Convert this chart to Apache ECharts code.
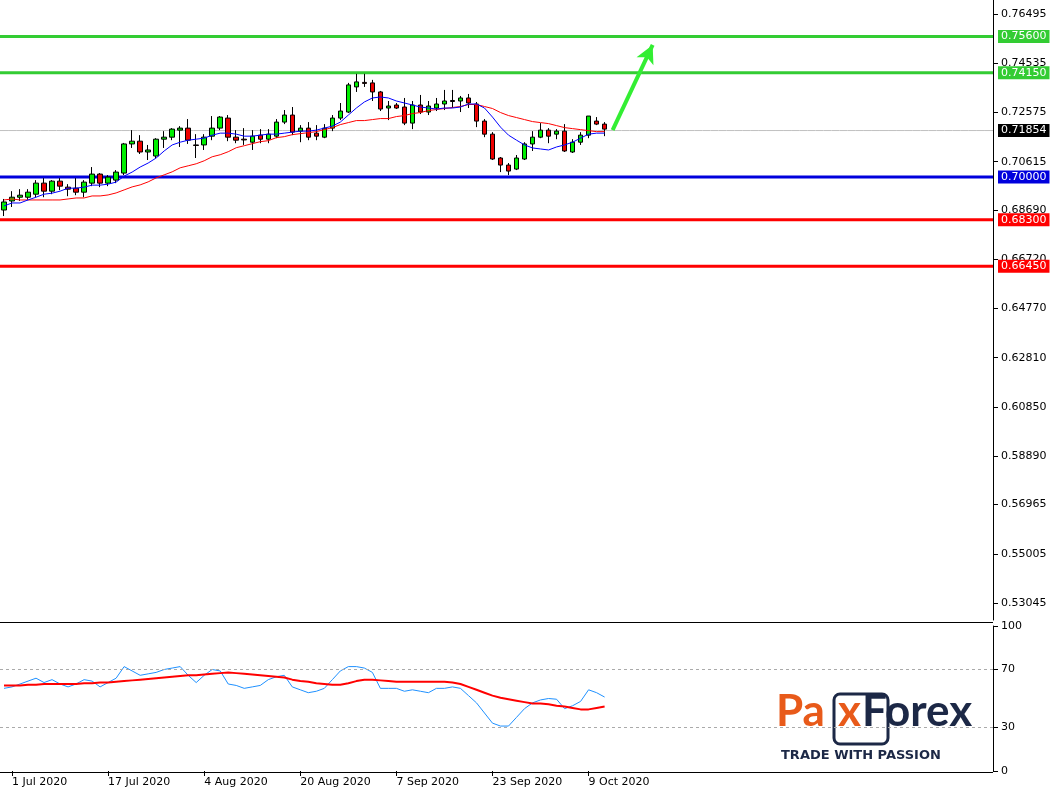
<!DOCTYPE html><html><head><meta charset="utf-8"><script src="https://cdn.jsdelivr.net/npm/echarts@6/dist/echarts.min.js"></script>
<style>html,body{margin:0;padding:0;background:#fff}#c{width:1061px;height:793px}</style></head><body><div id="c"></div><script>
const dates=['30 Jun','1 Jul 2020','2 Jul','3 Jul','6 Jul','7 Jul','8 Jul','9 Jul','10 Jul','13 Jul','14 Jul','15 Jul','16 Jul','17 Jul 2020','20 Jul','21 Jul','22 Jul','23 Jul','24 Jul','27 Jul','28 Jul','29 Jul','30 Jul','31 Jul','3 Aug','4 Aug 2020','5 Aug','6 Aug','7 Aug','10 Aug','11 Aug','12 Aug','13 Aug','14 Aug','17 Aug','18 Aug','19 Aug','20 Aug 2020','21 Aug','24 Aug','25 Aug','26 Aug','27 Aug','28 Aug','31 Aug','1 Sep','2 Sep','3 Sep','4 Sep','7 Sep 2020','8 Sep','9 Sep','10 Sep','11 Sep','14 Sep','15 Sep','16 Sep','17 Sep','18 Sep','21 Sep','22 Sep','23 Sep 2020','24 Sep','25 Sep','28 Sep','29 Sep','30 Sep','1 Oct','2 Oct','5 Oct','6 Oct','7 Oct','8 Oct','9 Oct 2020','12 Oct','13 Oct'];
const tickDates=['1 Jul 2020','17 Jul 2020','4 Aug 2020','20 Aug 2020','7 Sep 2020','23 Sep 2020','9 Oct 2020'];
// [open, close, low, high]
const ohlc=[[.6869,.6901,.6845,.6913],[.6905,.6920,.6881,.6944],[.6920,.6928,.6905,.6952],[.6920,.6940,.6909,.6952],[.6932,.6976,.6920,.6988],[.6976,.6944,.6920,.6996],[.6944,.6984,.6932,.6988],[.6984,.6964,.6948,.6996],[.6960,.6952,.6924,.6972],[.6956,.6940,.6928,.6996],
[.6940,.6980,.6920,.6988],[.6976,.7012,.6964,.7040],[.7012,.6976,.6960,.7016],[.6976,.7000,.6964,.7008],[.6988,.7020,.6976,.7028],[.7016,.7132,.7008,.7136],[.7132,.7143,.7116,.7187],[.7143,.7100,.7092,.7167],[.7100,.7108,.7068,.7128],[.7084,.7151,.7076,.7155],
[.7151,.7159,.7116,.7183],[.7159,.7191,.7147,.7195],[.7187,.7195,.7120,.7203],[.7195,.7147,.7132,.7231],[.7128,.7126,.7076,.7171],[.7128,.7159,.7108,.7171],[.7163,.7195,.7147,.7243],[.7195,.7239,.7187,.7243],[.7235,.7159,.7143,.7247],[.7159,.7147,.7135,.7187],
[.7151,.7148,.7128,.7195],[.7139,.7163,.7108,.7187],[.7167,.7151,.7135,.7191],[.7151,.7171,.7135,.7191],[.7163,.7219,.7155,.7231],[.7219,.7247,.7211,.7267],[.7247,.7179,.7167,.7279],[.7183,.7195,.7139,.7207],[.7195,.7159,.7147,.7219],[.7175,.7163,.7147,.7207],
[.7159,.7195,.7155,.7211],[.7195,.7235,.7183,.7247],[.7235,.7263,.7227,.7295],[.7259,.7367,.7255,.7375],[.7359,.7379,.7339,.7411],[.7377,.7373,.7359,.7411],[.7375,.7339,.7303,.7387],[.7339,.7271,.7263,.7343],[.7275,.7283,.7227,.7303],[.7287,.7275,.7271,.7295],
[.7279,.7215,.7207,.7315],[.7215,.7287,.7191,.7303],[.7287,.7259,.7251,.7327],[.7259,.7283,.7247,.7303],[.7275,.7291,.7263,.7315],[.7291,.7303,.7267,.7347],[.7305,.7301,.7275,.7347],[.7303,.7315,.7259,.7323],[.7315,.7295,.7275,.7331],[.7291,.7223,.7199,.7299],
[.7223,.7171,.7159,.7231],[.7171,.7072,.7068,.7179],[.7076,.7048,.7020,.7080],[.7048,.7024,.7008,.7056],[.7032,.7076,.7028,.7088],[.7072,.7132,.7068,.7139],[.7132,.7159,.7104,.7183],[.7159,.7187,.7155,.7215],[.7187,.7163,.7135,.7195],[.7171,.7183,.7151,.7191],
[.7183,.7104,.7100,.7211],[.7100,.7139,.7096,.7151],[.7139,.7167,.7128,.7179],[.7167,.7243,.7155,.7243],[.7223,.7211,.7207,.7239],[.7211,.7191,.7163,.7219]];
const maFast=[.6885,.6897,.6897,.6909,.6920,.6932,.6936,.6944,.6956,.6956,.6960,.6968,.6968,.6972,.6980,.7004,.7020,.7040,.7056,.7076,.7104,.7128,.7139,.7147,.7151,.7155,.7167,.7175,.7175,.7171,.7163,.7163,.7167,.7171,.7171,.7175,.7179,.7183,.7183,.7187,
.7195,.7203,.7219,.7247,.7275,.7299,.7315,.7319,.7315,.7303,.7295,.7287,.7279,.7275,.7271,.7275,.7275,.7279,.7291,.7291,.7275,.7239,.7199,.7167,.7147,.7128,.7116,.7112,.7108,.7120,.7128,.7139,.7155,.7171,.7175,.7175];
const maSlow=[.6909,.6913,.6909,.6909,.6909,.6909,.6909,.6909,.6913,.6917,.6917,.6925,.6925,.6929,.6937,.6949,.6961,.6969,.6981,.6997,.7009,.7021,.7037,.7045,.7053,.7065,.7081,.7089,.7101,.7117,.7125,.7133,.7141,.7145,.7157,.7161,.7169,.7173,.7177,.7181,
.7189,.7197,.7209,.7217,.7225,.7225,.7229,.7233,.7233,.7241,.7245,.7253,.7257,.7265,.7269,.7273,.7277,.7281,.7289,.7289,.7281,.7273,.7257,.7245,.7237,.7229,.7221,.7217,.7213,.7205,.7197,.7193,.7189,.7185,.7181,.7181];
const rsi=[57,58,60,62,64,61,63,60,58,60,63,62,58,61,64,72,69,66,67,68,70,71,72,66,61,66,70,69,60,59,57,58,59,63,65,66,58,56,54,55,57,63,69,72,72,71,68,57,57,57,55,56,55,54,57,57,58,57,52,47,40,33,31,31,37,43,47,49,50,49.5,43,45,48,56,54,51];
const rsiMa=[59,59,59,59.5,59.5,60,60,60,60,60,60.5,60.5,61,61,61.5,62,62.5,63,63.5,64,64.5,65,65.5,66,66,66.5,67,67.5,68,67.5,67,66.5,66,65.5,65,64.5,63,62,61.5,60.5,60,59.5,59.5,60.5,62,63,63,62.5,62,61.5,61.5,61.5,61.5,61.5,61.5,61.5,61,60,58,56,54,52,50.5,49.5,48.5,47.5,46.5,46.5,46,45,44.5,43.5,42.5,42.5,43.5,44.5];
const priceTicks=[0.76495,0.74535,0.72575,0.70615,0.68690,0.66720,0.64770,0.62810,0.60850,0.58890,0.56965,0.55005,0.53045];
const levels=[[0.7560,'#33cc33',3],[0.7415,'#33cc33',3],[0.7000,'#0000dd',3],[0.6830,'#ff0000',3],[0.6645,'#ff0000',3],[0.71854,'#c0c0c0',1]];
const arrowPts=[[76,0.7187],[81,0.7526]];
const N=124;
const cats=dates.slice();while(cats.length<N)cats.push('e'+cats.length);
const pad=a=>a.concat(new Array(N-a.length).fill('-'));
const font='Tahoma, "DejaVu Sans", sans-serif';
const levelSeries=levels.map(([v,c,w])=>({type:'line',xAxisIndex:2,yAxisIndex:0,data:new Array(N).fill(v),symbol:'none',silent:true,z:1,
 lineStyle:{color:c,width:w},
 endLabel:{show:true,formatter:v.toFixed(5),backgroundColor:w===1?'#000':c,color:'#fff',padding:[1,3],fontSize:11,fontFamily:font,distance:5}}));
const ch=echarts.init(document.getElementById('c'));
ch.setOption({animation:false,
grid:[{left:0,right:68,top:0,height:620},{left:0,right:68,top:626,height:145}],
xAxis:[{type:'category',data:cats,gridIndex:0,axisLine:{show:false},axisTick:{show:false},axisLabel:{show:false}},
{type:'category',data:cats,gridIndex:1,axisLine:{show:false},axisTick:{show:true,length:5,lineStyle:{color:'#000'},interval:(i,v)=>tickDates.includes(v),alignWithLabel:true},
axisLabel:{interval:(i,v)=>tickDates.includes(v),formatter:v=>tickDates.includes(v)?v:'',align:'left',fontSize:11,fontFamily:font,color:'#000',margin:6}},
{type:'category',data:cats,gridIndex:0,boundaryGap:false,show:false}],
yAxis:[{type:'value',gridIndex:0,position:'right',min:0.5237,max:0.7705,splitLine:{show:false},axisLine:{show:true,lineStyle:{color:'#000'}},axisTick:{show:true,customValues:priceTicks,lineStyle:{color:'#000'}},
axisLabel:{customValues:priceTicks,formatter:v=>v.toFixed(5),fontSize:11,fontFamily:font,color:'#000'}},
{type:'value',gridIndex:1,position:'right',min:0,max:100,splitLine:{show:false},axisLine:{show:true,lineStyle:{color:'#000'}},axisTick:{show:true,customValues:[0,30,70,100]},axisLabel:{customValues:[0,30,70,100],fontSize:11,fontFamily:font,color:'#000'}}],
series:levelSeries.concat([
{type:'candlestick',xAxisIndex:0,yAxisIndex:0,data:pad(ohlc),barWidth:5,itemStyle:{color:'#00ee00',color0:'#ee0000',borderColor:'#000',borderColor0:'#000',borderWidth:1},z:4},
{type:'line',data:pad(maSlow),symbol:'none',lineStyle:{color:'#ff0000',width:1},z:5},
{type:'line',data:pad(maFast),symbol:'none',lineStyle:{color:'#0000ff',width:1},z:5,
markLine:{silent:true,symbol:['none','arrow'],symbolSize:[14,18],lineStyle:{color:'#33ee33',width:4,type:'solid'},label:{show:false},
data:[[{coord:[arrowPts[0][0],arrowPts[0][1]]},{coord:[arrowPts[1][0],arrowPts[1][1]]}]]}},
{type:'line',xAxisIndex:1,yAxisIndex:1,data:pad(rsi),symbol:'none',lineStyle:{color:'#1e90ff',width:1},
markLine:{silent:true,symbol:'none',label:{show:false},lineStyle:{color:'#aaa',type:[3,3],width:1},data:[{yAxis:30},{yAxis:70}]}},
{type:'line',xAxisIndex:1,yAxisIndex:1,data:pad(rsiMa),symbol:'none',lineStyle:{color:'#ff0000',width:2}}]),
graphic:[
{type:'rect',shape:{x:0,y:622,width:993,height:1},style:{fill:'#000'}},
{type:'rect',shape:{x:0,y:772,width:993,height:1},style:{fill:'#000'}},
{type:'text',left:776,top:690,style:{text:'Pa',font:'bold 44px Lato, "DejaVu Sans"',fill:'#e85a1a'}},
{type:'rect',shape:{x:834,y:694,width:54,height:50,r:6},style:{fill:'#fff',stroke:'#1c2846',lineWidth:3}},
{type:'text',left:838,top:690,style:{text:'x',font:'bold 44px Lato, "DejaVu Sans"',fill:'#e85a1a'}},
{type:'text',left:862,top:690,style:{text:'Forex',font:'bold 44px Lato, "DejaVu Sans"',fill:'#1c2846'}},
{type:'text',left:781,top:749,style:{text:'TRADE WITH PASSION',font:'bold 13px "DejaVu Sans"',fill:'#1c2846',letterSpacing:4.2}}]
});
</script></body></html>
